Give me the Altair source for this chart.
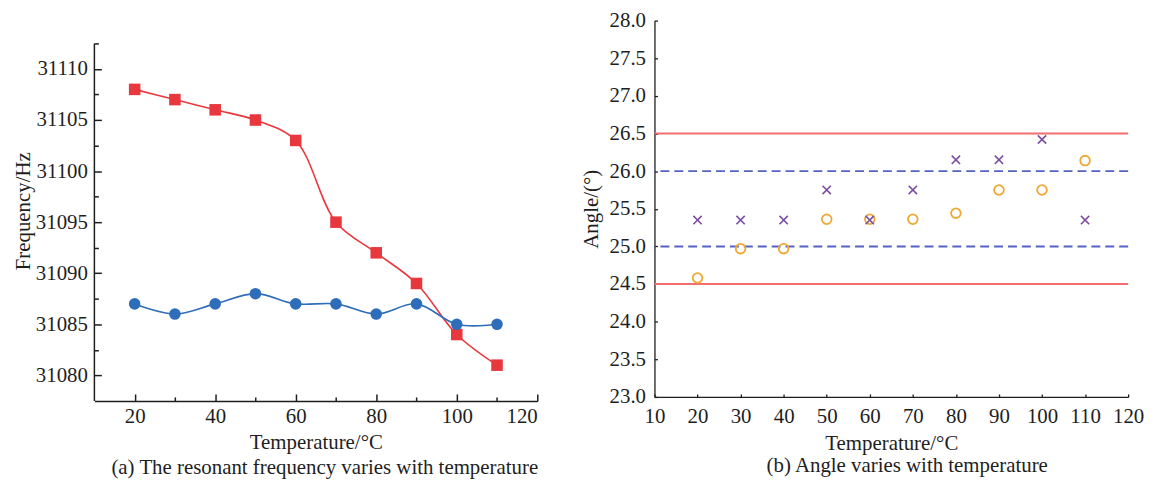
import altair as alt
import pandas as pd

# ---------------- data ----------------
temps = [20, 30, 40, 50, 60, 70, 80, 90, 100, 110]
freq_red = [31108, 31107, 31106, 31105, 31103, 31095, 31092, 31089, 31084, 31081]
freq_blue = [31087, 31086, 31087, 31088, 31087, 31087, 31086, 31087, 31085, 31085]
angle_cross = [25.35, 25.35, 25.35, 25.75, 25.35, 25.75, 26.15, 26.15, 26.42, 25.35]
angle_circle = [24.58, 24.97, 24.97, 25.36, 25.36, 25.36, 25.44, 25.75, 25.75, 26.14]
limits_solid = [24.5, 26.5]
limits_dash = [25.0, 26.0]

left_x_ticks = [20, 30, 40, 50, 60, 70, 80, 90, 100, 110, 120]
left_y_ticks = [31080, 31082.5, 31085, 31087.5, 31090, 31092.5, 31095, 31097.5,
                31100, 31102.5, 31105, 31107.5, 31110, 31112.5]
right_x_ticks = [10, 20, 30, 40, 50, 60, 70, 80, 90, 100, 110, 120]
right_y_ticks = [23.0, 23.5, 24.0, 24.5, 25.0, 25.5, 26.0, 26.5, 27.0, 27.5, 28.0]

caption_a = "(a) The resonant frequency varies with temperature"
caption_b = "(b) Angle varies with temperature"

FONT = "Liberation Serif"
TXT = "#1e1e1e"
FS = 21

red_df = pd.DataFrame({"T": temps, "F": freq_red})
blue_df = pd.DataFrame({"T": temps, "F": freq_blue})
cross_df = pd.DataFrame({"T": temps, "A": angle_cross})
circle_df = pd.DataFrame({"T": temps, "A": angle_circle})
solid_df = pd.DataFrame({"A": limits_solid})
dash_df = pd.DataFrame({"A": limits_dash})
axis_df = pd.DataFrame({"T": [10], "F": [31077.5], "F2": [31112.5]})

# ---------------- left panel ----------------
lx_scale = alt.Scale(domain=[10, 120], nice=False, zero=False)
ly_scale = alt.Scale(domain=[31077.5, 31114.736], nice=False, zero=False)
lx_axis = alt.Axis(
    values=left_x_ticks, format="d", labelOverlap=False,
    labelExpr="datum.value % 20 === 0 ? datum.label : ''",
    tickSize={"condition": {"test": "datum.value % 20 === 0", "value": -7}, "value": -4},
    labelPadding=12, title="Temperature/°C", titlePadding=2,
    domainWidth=1.5, tickWidth=1.5,
)
ly_axis = alt.Axis(
    values=left_y_ticks, format="d", labelOverlap=False,
    labelExpr="datum.value % 5 === 0 ? datum.label : ''",
    tickSize={"condition": {"test": "datum.value % 5 === 0", "value": -7}, "value": -4},
    labelPadding=14, title="Frequency/Hz", titlePadding=2,
    domain=False, tickWidth=1.5,
)
lx = alt.X("T:Q", scale=lx_scale, axis=lx_axis)
ly = alt.Y("F:Q", scale=ly_scale, axis=ly_axis)

RED = "#E8383D"
BLUE = "#2E6DBA"

red_line = alt.Chart(red_df).mark_line(color=RED, strokeWidth=1.6, interpolate="catmull-rom").encode(x=lx, y=ly)
red_pts = alt.Chart(red_df).mark_point(shape="square", filled=True, color=RED, size=135, opacity=1).encode(x=lx, y=ly)
blue_line = alt.Chart(blue_df).mark_line(color=BLUE, strokeWidth=1.6, interpolate="catmull-rom").encode(x=lx, y=ly)
blue_pts = alt.Chart(blue_df).mark_point(shape="circle", filled=True, color=BLUE, size=135, opacity=1).encode(x=lx, y=ly)
y_axis_line = alt.Chart(axis_df).mark_rule(color=TXT, strokeWidth=1.5).encode(x=lx, y=ly, y2="F2:Q")

left = alt.layer(y_axis_line, red_line, blue_line, red_pts, blue_pts).properties(
    width=446, height=383,
    title=alt.TitleParams(caption_a, orient="bottom", frame="group", anchor="middle",
                          dx=9, offset=5, font=FONT, fontSize=FS, fontWeight="normal", color=TXT),
)

# ---------------- right panel ----------------
rx_axis = alt.Axis(values=right_x_ticks, format="d", tickSize={"expr": "-3"}, labelPadding=12,
                   labelOverlap=False, labelFlush=False,
                   title="Temperature/°C", titlePadding=6, domainWidth=1.3, tickWidth=1.3)
ry_axis = alt.Axis(values=right_y_ticks, format=".1f", tickSize={"expr": "-3"}, labelPadding=12,
                   labelOverlap=False, labelFlush=False, labelSeparation=0,
                   title="Angle/(°)", titlePadding=8, domainWidth=1.3, tickWidth=1.3)
rx = alt.X("T:Q", scale=alt.Scale(domain=[10, 120], nice=False, zero=False), axis=rx_axis)
ry = alt.Y("A:Q", scale=alt.Scale(domain=[23, 28], nice=False, zero=False), axis=ry_axis)

solid = alt.Chart(solid_df).mark_rule(color="#F26D6D", strokeWidth=2).encode(y=ry)
dashed = alt.Chart(dash_df).mark_rule(color="#5563C4", strokeWidth=2, strokeDash=[9, 5]).encode(y=ry)
crosses = alt.Chart(cross_df).mark_point(
    shape="M-1,-1L1,1M-1,1L1,-1", filled=False, color="#7B4DA0", size=70, strokeWidth=1.6, opacity=1
).encode(x=rx, y=ry)
circles = alt.Chart(circle_df).mark_point(
    shape="circle", filled=False, color="#F0A834", size=95, strokeWidth=1.8, opacity=1
).encode(x=rx, y=ry)

right = alt.layer(solid, dashed, circles, crosses).properties(
    width=477, height=379,
    title=alt.TitleParams(caption_b, orient="bottom", frame="group", anchor="middle",
                          dx=16, offset=2, font=FONT, fontSize=FS, fontWeight="normal", color=TXT),
)

chart = alt.hconcat(left, right, spacing=118, bounds="flush").properties(
    padding={"left": 4, "top": 0, "right": 5, "bottom": 5}
).configure_view(stroke=None).configure_axis(
    grid=False, labelFont=FONT, titleFont=FONT, labelFontSize=FS, titleFontSize=FS,
    titleFontWeight="normal", labelColor=TXT, titleColor=TXT, domainColor=TXT, tickColor=TXT,
    labelOverlap=False,
).configure_title(font=FONT)

chart.save("out.html", embed_options={"renderer": "svg", "actions": False})
